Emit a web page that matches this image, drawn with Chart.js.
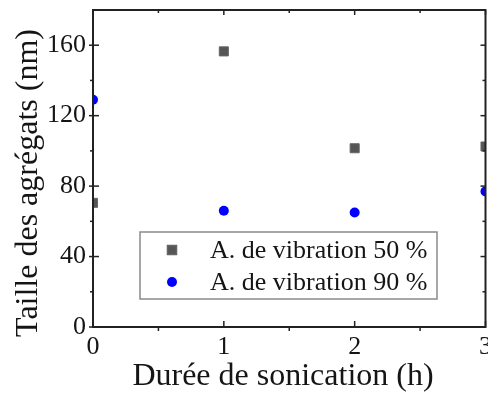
<!DOCTYPE html>
<html>
<head>
<meta charset="utf-8">
<script src="https://cdn.jsdelivr.net/npm/chart.js@4.4.1/dist/chart.umd.min.js"></script>
<style>
    body { margin: 0; background: #fff; }
    #wrap { width: 488px; height: 393px; }
</style>
</head>
<body>
<div id="wrap"><canvas id="chart" width="488" height="393"></canvas></div>
<script>
const durations = [0, 1, 2, 3];
const size50 = [70.5, 156.5, 101.5, 102.5];
const size90 = [129, 66, 65, 77];
const labels = ["A. de vibration 50 %", "A. de vibration 90 %"];
const xTicks = [0, 1, 2, 3];
const xMinor = [0.5, 1.5, 2.5];
const yTicks = [0, 40, 80, 120, 160];
const yMinor = [20, 60, 100, 140];

const serif = '"Liberation Serif", "Times New Roman", serif';
const ink = '#151515';

// frame + ticks like Origin (some in, some out)
const framePlugin = {
    id: 'frame',
    afterDatasetsDraw(chart) {
        const { ctx, chartArea: a, scales: { x, y } } = chart;
        ctx.save();
        ctx.strokeStyle = '#222';
        ctx.lineWidth = 2;
        ctx.strokeRect(a.left, a.top, a.right - a.left, a.bottom - a.top);

        const line = (x1, y1, x2, y2) => {
            ctx.beginPath(); ctx.moveTo(x1, y1); ctx.lineTo(x2, y2); ctx.stroke();
        };
        ctx.lineWidth = 1.5;
        xTicks.forEach(v => {
            const px = x.getPixelForValue(v);
            line(px, a.bottom, px, a.bottom - 6);
            line(px, a.top, px, a.top + 5);
        });
        xMinor.forEach(v => {
            const px = x.getPixelForValue(v);
            line(px, a.bottom, px, a.bottom + 4);
            line(px, a.top, px, a.top + 3);
        });
        yTicks.forEach(v => {
            const py = y.getPixelForValue(v);
            line(a.left - 4, py, a.left + 6, py);
            line(a.right, py, a.right - 5, py);
        });
        yMinor.forEach(v => {
            const py = y.getPixelForValue(v);
            line(a.left - 3, py, a.left, py);
            line(a.right, py, a.right - 3, py);
        });
        ctx.restore();
    }
};

const titlePlugin = {
    id: 'titles',
    afterDraw(chart) {
        const ctx = chart.ctx;
        ctx.save();
        ctx.fillStyle = ink;
        ctx.font = '32px ' + serif;
        ctx.textAlign = 'center';
        ctx.textBaseline = 'alphabetic';
        ctx.fillText('Durée de sonication (h)', 283, 385);
        ctx.translate(37, 183);
        ctx.rotate(-Math.PI / 2);
        ctx.fillText('Taille des agrégats (nm)', 0, 0);
        ctx.restore();
    }
};

const legendPlugin = {
    id: 'boxLegend',
    afterDraw(chart) {
        const ctx = chart.ctx;
        ctx.save();
        ctx.strokeStyle = '#8a8a8a';
        ctx.lineWidth = 1.5;
        ctx.strokeRect(140, 232, 297, 67);
        ctx.font = '26px ' + serif;
        ctx.textAlign = 'left';
        ctx.textBaseline = 'middle';
        chart.data.datasets.forEach((ds, i) => {
            const yy = 250 + i * 32;
            ctx.fillStyle = ds.backgroundColor;
            ctx.strokeStyle = ds.borderColor;
            Chart.helpers.drawPoint(ctx, {
                pointStyle: ds.pointStyle, radius: ds.pointRadius,
                rotation: 0, borderWidth: ds.borderWidth
            }, 172, yy);
            ctx.fillStyle = ink;
            ctx.fillText(ds.label, 210, yy + 1);
        });
        ctx.restore();
    }
};

new Chart(document.getElementById('chart'), {
    type: 'scatter',
    data: {
        datasets: [
            {
                label: labels[0],
                data: durations.map((d, i) => ({ x: d, y: size50[i] })),
                pointStyle: 'rect', pointRadius: 6.4,
                backgroundColor: '#555555', borderColor: '#666666', borderWidth: 1
            },
            {
                label: labels[1],
                data: durations.map((d, i) => ({ x: d, y: size90[i] })),
                pointStyle: 'circle', pointRadius: 5,
                backgroundColor: '#0000ff', borderColor: '#0000ff', borderWidth: 0
            }
        ]
    },
    options: {
        responsive: false,
        animation: false,
        layout: { autoPadding: false, padding: { top: 10, right: 2.5, left: 0, bottom: 0 } },
        plugins: { legend: { display: false }, tooltip: { enabled: false } },
        scales: {
            x: {
                type: 'linear', min: 0, max: 3,
                afterBuildTicks: s => { s.ticks = xTicks.map(v => ({ value: v })); },
                afterFit: s => { s.height = 66; s.paddingLeft = 0; s.paddingRight = 0; },
                grid: { display: false, drawTicks: false }, border: { display: false },
                ticks: { color: ink, font: { family: serif, size: 26 }, padding: 5, maxRotation: 0 }
            },
            y: {
                min: 0, max: 180,
                afterBuildTicks: s => { s.ticks = yTicks.map(v => ({ value: v })); },
                afterFit: s => { s.width = 93; s.paddingTop = 0; s.paddingBottom = 0; },
                grid: { display: false, drawTicks: false }, border: { display: false },
                ticks: { color: ink, font: { family: serif, size: 26 }, padding: 7 }
            }
        }
    },
    plugins: [framePlugin, titlePlugin, legendPlugin]
});
</script>
</body>
</html>
